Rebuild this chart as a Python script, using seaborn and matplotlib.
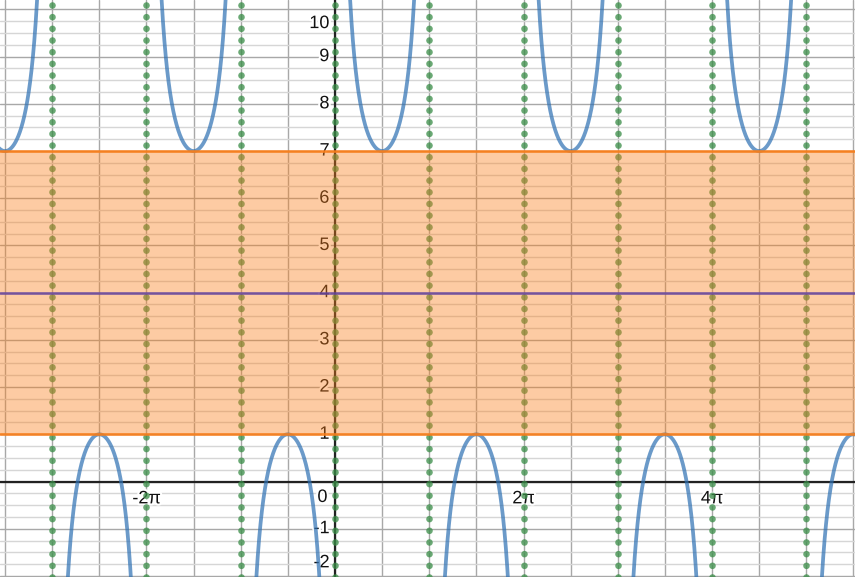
import numpy as np
import pandas as pd
import matplotlib.pyplot as plt
import matplotlib.patheffects as pe
import seaborn as sns

# y = midline + amplitude * csc(x)
midline = 4
amplitude = 3
asymptote_k = [-4, -3, -2, -1, 0, 1, 2, 3, 4, 5, 6]   # asymptotes at k*pi
band_low, band_high = 1, 7
y_labels = [-2, -1, 1, 2, 3, 4, 5, 6, 7, 8, 9, 10]
x_label_k = [-2, 2, 4]   # labels at k*pi
x_label_text = ['-2π', '2π', '4π']

sns.set_style('white')
plt.rcParams['font.family'] = ['Liberation Sans', 'DejaVu Sans']

xmin, xmax = -3.554 * np.pi, 5.517 * np.pi
ymin, ymax = -2.023, 10.2

fig = plt.figure(figsize=(8.55, 5.77), dpi=100)
ax = fig.add_axes([0, 0, 1, 1])

# curve branches between asymptotes
rows = []
for k in asymptote_k[:-1]:
    xs = np.linspace(k * np.pi + 0.01, (k + 1) * np.pi - 0.01, 400)
    ys = midline + amplitude / np.sin(xs)
    for xv, yv in zip(xs, ys):
        rows.append((xv, yv, k))
df = pd.DataFrame(rows, columns=['x', 'y', 'branch'])
df = df[(df.y > ymin - 5) & (df.y < ymax + 5)]

# grid
ax.set_xticks(np.arange(-8, 13) * np.pi / 2)
ax.set_yticks(np.arange(-3, 12))
ax.set_yticks(np.arange(-3, 12, 0.25), minor=True)
ax.grid(True, which='major', color='#a8a8a8', lw=1, zorder=0)
ax.grid(True, which='minor', axis='y', color='#d6d6d6', lw=1, zorder=0)
ax.set_axisbelow(True)
ax.tick_params(length=0, labelbottom=False, labelleft=False)
for s in ax.spines.values():
    s.set_visible(False)

# axes
ax.axhline(0, color='#222222', lw=1.6, zorder=1)
ax.axvline(0, color='#222222', lw=1.6, zorder=1)

halo = [pe.withStroke(linewidth=3, foreground='white')]
for v in y_labels:
    yp = min(max(v, ymin + 0.3), ymax - 0.5)
    ax.annotate(str(v), (0, yp), xytext=(-4, 0), textcoords='offset points',
                ha='right', va='center', fontsize=13, color='#111111',
                path_effects=halo, zorder=2)
for k, t in zip(x_label_k, x_label_text):
    ax.annotate(t, (k * np.pi, 0), xytext=(0, -12.5), textcoords='offset points',
                ha='center', va='center', fontsize=13, color='#111111',
                path_effects=halo, zorder=2)
ax.annotate('0', (0, 0), xytext=(-9, -11.5), textcoords='offset points',
            ha='center', va='center', fontsize=13, color='#111111',
            path_effects=halo, zorder=2)

# asymptotes
for k in asymptote_k:
    ax.axvline(k * np.pi, color='#388c46', alpha=0.75, lw=4.8,
               linestyle=(0, (0.001, 1.75)), dash_capstyle='round', zorder=3)

sns.lineplot(data=df, x='x', y='y', units='branch', estimator=None, sort=False,
             color='#2d70b3', alpha=0.7, lw=2.7, ax=ax, zorder=4)

# band
ax.axhspan(band_low, band_high, color='#fa7e19', alpha=0.4, lw=0, zorder=5)
ax.axhline(band_low, color='#fa7e19', lw=1.9, alpha=0.9, zorder=6)
ax.axhline(band_high, color='#fa7e19', lw=1.9, alpha=0.9, zorder=6)
ax.axhline(midline, color='#6042a6', lw=1.9, alpha=0.8, zorder=7)

ax.set_xlim(xmin, xmax)
ax.set_ylim(ymin, ymax)
ax.set_xlabel('')
ax.set_ylabel('')

fig.savefig('out.png', dpi=100)
